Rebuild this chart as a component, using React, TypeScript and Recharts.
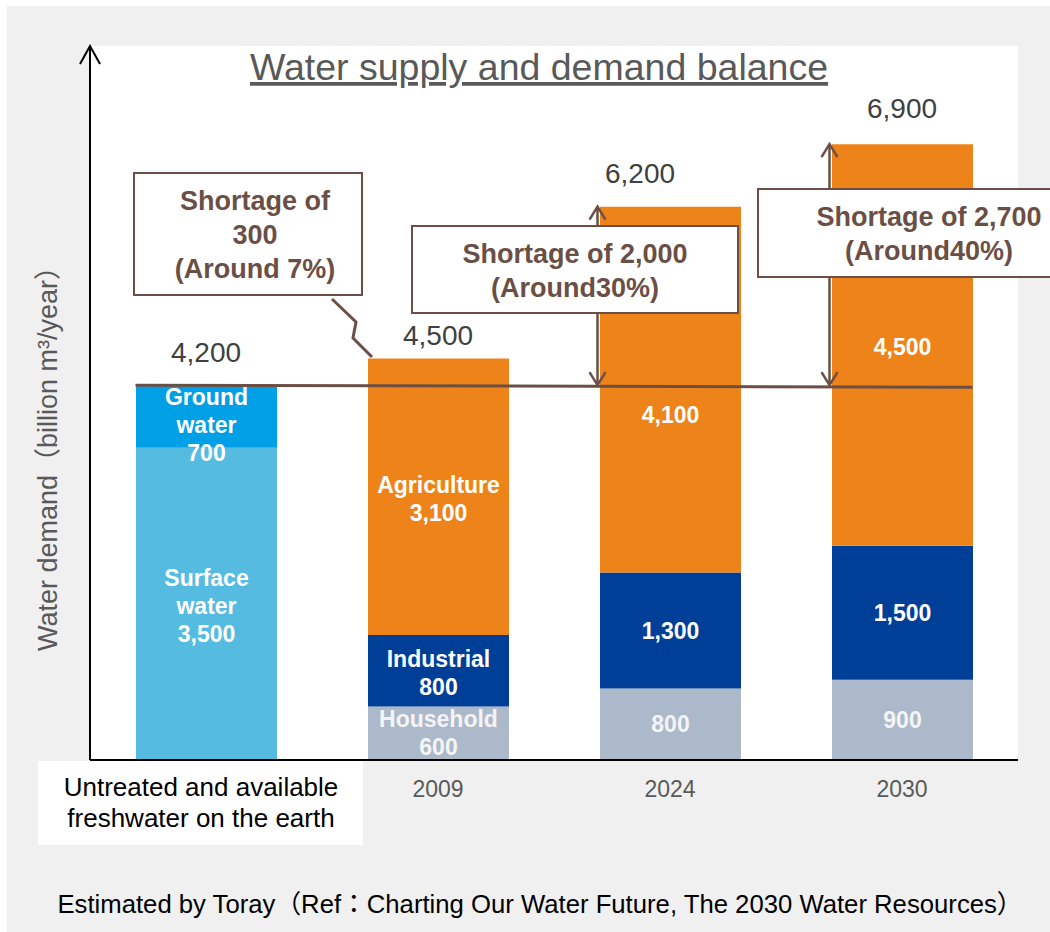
import React from "react";
import {
  Bar,
  CartesianGrid,
  ComposedChart,
  LabelList,
  Line,
  ReferenceLine,
  XAxis,
  YAxis
} from "recharts";

const categories = ["Untreated and available freshwater on the earth", "2009", "2024", "2030"];
const surfaceWater = [3500, 0, 0, 0];
const groundWater = [700, 0, 0, 0];
const household = [0, 600, 800, 900];
const industrial = [0, 800, 1300, 1500];
const agriculture = [0, 3100, 4100, 4500];
const totals = [4200, 4500, 6200, 6900];
const supplyLevel = 4200;
const shortageYears = ["2024", "2030"];
const shortageTops = [6200, 6900];

const surfaceNames = ["Surface water", "", "", ""];
const groundNames = ["Ground water", "", "", ""];
const householdNames = ["", "Household", "", ""];
const industrialNames = ["", "Industrial", "", ""];
const agricultureNames = ["", "Agriculture", "", ""];

const calloutLines = [
  ["Shortage of", "300", "(Around 7%)"],
  ["Shortage of 2,000", "(Around30%)"],
  ["Shortage of 2,700", "(Around40%)"]
];
const title = "Water supply and demand balance";
const yTitle = "Water demand（billion m³/year）";
const footnote = "Estimated by Toray（Ref：Charting Our Water Future, The 2030 Water Resources）";

const FONT = "'Liberation Sans', Arial, 'Noto Sans CJK JP', sans-serif";
const BROWN = "#6B4F45";
const BAR = 141;
const W = 1050;
const H = 932;

const rows = categories.map((name, i) => ({
  name,
  surface: surfaceWater[i],
  ground: groundWater[i],
  household: household[i],
  industrial: industrial[i],
  agriculture: agriculture[i],
  total: totals[i]
}));

const fmt = (v: number) => v.toLocaleString("en-US");

// zero-height segments are skipped by the label list, so find the category from the value
function segmentLabel(names: string[], values: number[], color: string, shift: number[] = [0, 0, 0, 0]) {
  return (props: any) => {
    const { x, y, width, height, value } = props;
    const raw = Array.isArray(value) ? value[1] - value[0] : Number(value);
    const idx = values.indexOf(raw);
    if (idx < 0 || !raw) return null;
    const lines = names[idx] ? [...names[idx].split(" "), fmt(raw)] : [fmt(raw)];
    const cx = Number(x) + Number(width) / 2;
    const cy = Number(y) + Number(height) / 2 + shift[idx];
    const lh = 28;
    return (
      <text textAnchor="middle" fill={color} fontSize={23} fontWeight="bold" fontFamily={FONT}>
        {lines.map((t, i) => (
          <tspan key={i} x={cx} y={cy - ((lines.length - 1) * lh) / 2 + i * lh + 8}>
            {t}
          </tspan>
        ))}
      </text>
    );
  };
}

// offsets of the total labels above each bar
const totalDx = [0, 0, -30, 0];
const totalGap = [23, 13, 24, 26];

function totalLabel(props: any) {
  const { x, y, value } = props;
  const idx = totals.indexOf(Number(value));
  if (idx < 0) return null;
  return (
    <text x={Number(x) + totalDx[idx]} y={Number(y) - totalGap[idx]} textAnchor="middle" fill="#404040" fontSize={28} fontFamily={FONT}>
      {fmt(totals[idx])}
    </text>
  );
}

function XTick(props: any) {
  const { x, y, index, payload } = props;
  if (index === 0) {
    const words = String(payload.value).split(" ");
    const lines = [words.slice(0, 3).join(" "), words.slice(3).join(" ")];
    return (
      <g>
        <rect x={x - 168} y={y + 1} width={325} height={84} fill="#fff" />
        {lines.map((t, i) => (
          <text key={i} x={x - 5} y={y + 36 + i * 31} textAnchor="middle" fill="#000" fontSize={26} fontFamily={FONT}>
            {t}
          </text>
        ))}
      </g>
    );
  }
  return (
    <text x={x} y={y + 37} textAnchor="middle" fill="#595959" fontSize={23} fontFamily={FONT}>
      {payload.value}
    </text>
  );
}

function supplyShape(p: any) {
  const band = (p.x2 - p.x1) / categories.length;
  const inset = (band - BAR) / 2;
  return <line x1={p.x1 + inset} y1={p.y1} x2={p.x2 - inset} y2={p.y2 + 2} stroke={BROWN} strokeWidth={3} />;
}

// y axis with an open arrow head, drawn from the reference line at the top of the domain
function yAxisShape(p: any) {
  const x = p.x1;
  return (
    <g stroke="#000" strokeWidth={2} fill="none">
      <line x1={x} y1={p.y1} x2={x} y2={760} />
      <path d={`M${x - 10},${p.y1 + 18} L${x},${p.y1} L${x + 10},${p.y1 + 18}`} />
    </g>
  );
}

function arrowShape(p: any) {
  const x = p.x1 - BAR / 2 - 2;
  const bottom = Math.max(p.y1, p.y2);
  const top = Math.min(p.y1, p.y2);
  return (
    <g stroke={BROWN} strokeWidth={2.5} fill="none">
      <line x1={x} y1={top} x2={x} y2={bottom} />
      <path d={`M${x - 8},${top + 13} L${x},${top} L${x + 8},${top + 13}`} />
      <path d={`M${x - 8},${bottom - 13} L${x},${bottom} L${x + 8},${bottom - 13}`} />
    </g>
  );
}

const boxes = [
  { x: 134, y: 173, w: 228, h: 122, cx: 255 },
  { x: 412, y: 226, w: 326, h: 87, cx: 575 },
  { x: 758, y: 189, w: 340, h: 88, cx: 929 }
];

export default function App() {
  return (
    <div style={{ position: "absolute", left: 0, top: 0, width: W, height: H, overflow: "hidden", background: "#fff" }}>
      <div style={{ position: "absolute", left: 7, top: 6, width: W - 7, height: H - 6, background: "#F0F0F0" }} />
      <div style={{ position: "absolute", left: 0, top: 0 }}>
        <ComposedChart width={W} height={H} data={rows} margin={{ top: 46, right: 32, bottom: 82, left: 80 }}>
          <CartesianGrid fill="#fff" horizontal={false} vertical={false} />
          <XAxis dataKey="name" height={90} tickSize={0} tickMargin={0} tickLine={false} axisLine={{ stroke: "#000", strokeWidth: 2 }} tick={XTick} interval={0} />
          <YAxis domain={[0, 8000]} width={10} tick={false} tickLine={false} axisLine={{ stroke: "#000", strokeWidth: 2 }} />
          <Bar dataKey="surface" stackId="a" fill="#56BBE1" barSize={BAR} isAnimationActive={false}>
            <LabelList dataKey="surface" content={segmentLabel(surfaceNames, surfaceWater, "#fff", [2, 0, 0, 0])} />
          </Bar>
          <Bar dataKey="ground" stackId="a" fill="#00A0E6" barSize={BAR} isAnimationActive={false}>
            <LabelList dataKey="ground" content={segmentLabel(groundNames, groundWater, "#fff", [9, 0, 0, 0])} />
          </Bar>
          <Bar dataKey="household" stackId="a" fill="#ACB9CA" barSize={BAR} isAnimationActive={false}>
            <LabelList dataKey="household" content={segmentLabel(householdNames, household, "#F4F4F4")} />
          </Bar>
          <Bar dataKey="industrial" stackId="a" fill="#003F98" barSize={BAR} isAnimationActive={false}>
            <LabelList dataKey="industrial" content={segmentLabel(industrialNames, industrial, "#fff", [0, 2, 0, 0])} />
          </Bar>
          <Bar dataKey="agriculture" stackId="a" fill="#EE8419" barSize={BAR} isAnimationActive={false}>
            <LabelList dataKey="agriculture" content={segmentLabel(agricultureNames, agriculture, "#fff", [0, 2, 25, 2])} />
          </Bar>
          <Line dataKey="total" stroke="none" dot={false} activeDot={false} isAnimationActive={false}>
            <LabelList dataKey="total" content={totalLabel} />
          </Line>
          <ReferenceLine y={8000} shape={yAxisShape} />
          <ReferenceLine y={supplyLevel} shape={supplyShape} />
          {shortageYears.map((yr, i) => (
            <ReferenceLine
              key={yr}
              segment={[
                { x: yr, y: supplyLevel },
                { x: yr, y: shortageTops[i] }
              ]}
              shape={arrowShape}
            />
          ))}
        </ComposedChart>
      </div>
      <svg width={W} height={H} style={{ position: "absolute", left: 0, top: 0, pointerEvents: "none" }}>
        <text x={539} y={80} textAnchor="middle" fill="#595959" fontSize={37.5} fontFamily={FONT} textDecoration="underline">
          {title}
        </text>
        <text transform="translate(57,452) rotate(-90)" textAnchor="middle" fill="#595959" fontSize={27} fontFamily={FONT}>
          {yTitle}
        </text>
        <polyline points="332,299 356,322 353,338 372,357" fill="none" stroke={BROWN} strokeWidth={3} />
        {boxes.map((b, i) => {
          const lines = calloutLines[i];
          const mid = b.y + b.h / 2;
          return (
            <g key={i}>
              <rect x={b.x} y={b.y} width={b.w} height={b.h} fill="#fff" stroke={BROWN} strokeWidth={2} />
              {lines.map((t, j) => (
                <text key={j} x={b.cx} y={mid - ((lines.length - 1) * 34) / 2 + j * 34 + 10} textAnchor="middle" fill={BROWN} fontSize={27} fontWeight="bold" fontFamily={FONT}>
                  {t}
                </text>
              ))}
            </g>
          );
        })}
        <text x={540} y={913} textAnchor="middle" fill="#000" fontSize={25.7} fontFamily={FONT}>
          {footnote}
        </text>
      </svg>
    </div>
  );
}
